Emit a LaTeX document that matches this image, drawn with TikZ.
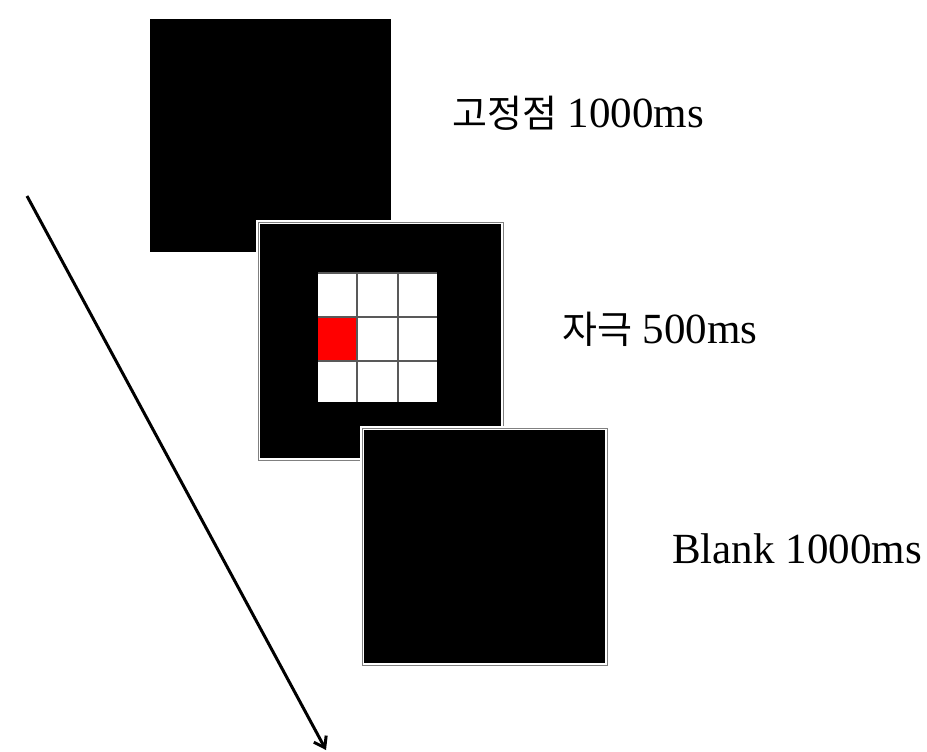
\documentclass[tikz,border=0pt]{standalone}
\usepackage{fontspec}
\setmainfont{Liberation Serif}
\newfontfamily\kofont{Noto Sans CJK KR}
\usetikzlibrary{arrows.meta}
\begin{document}
\begin{tikzpicture}[x=1pt,y=-1pt,
  screen/.style={fill=black,draw=white,line width=4pt},
  gridline/.style={draw=black!65,line width=1.2pt},
  lbl/.style={anchor=base west,inner sep=0pt,font=\fontsize{43}{48}\selectfont},
  ko/.style={font=\kofont\fontsize{37}{40}\selectfont}]
\useasboundingbox (0,0) rectangle (927,752);
% screens
\path[screen] (148,17) rectangle (393,254);
\path[screen] (258,222) rectangle (503,460);
\draw[black!50,line width=0.6pt] (258,222) rectangle (503,460);
% grid
\fill[white] (318,273) rectangle (437,402);
\fill[red] (318,317) rectangle (357,361);
\draw[gridline] (357,273) -- (357,402) (398,273) -- (398,402)
  (318,317) -- (437,317) (318,361) -- (437,361) (318,273) -- (437,273);
% third screen
\path[screen] (362,428) rectangle (607,665);
\draw[black!50,line width=0.6pt] (362,428) rectangle (607,665);
% labels
\node[lbl] (t1) at (452,127) {{\kofont\fontsize{38}{40}\selectfont 고정점} 1000ms};
\node[lbl] (t2) at (562,343) {{\kofont\fontsize{38}{40}\selectfont 자극} 500ms};
\node[lbl] (t3) at (672,563) {Blank 1000ms};
% time arrow
\coordinate (a0) at (27,196);
\coordinate (a1) at (326,750);
\draw[line width=3pt,-{Straight Barb[length=10pt,width=14pt]}] (a0) -- (a1);
\end{tikzpicture}
\end{document}
